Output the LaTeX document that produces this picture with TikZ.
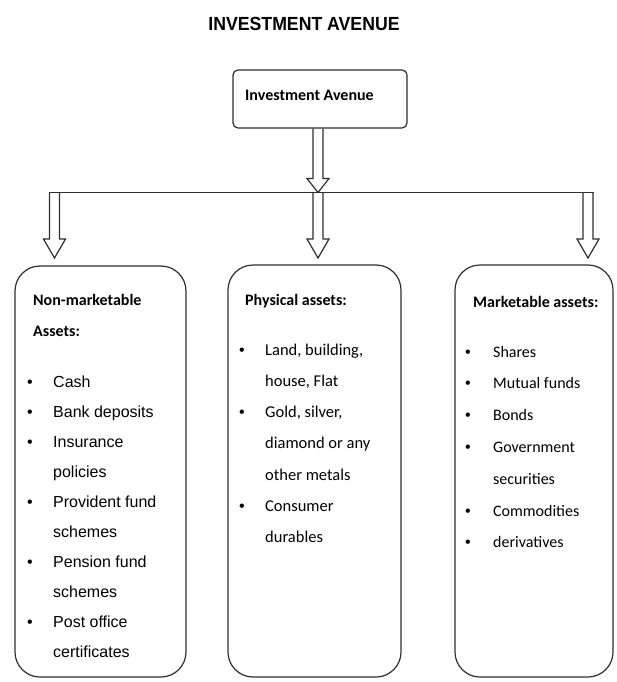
\documentclass[tikz,border=0pt]{standalone}
\usepackage{fontspec}
\usepackage{graphicx}
\setmainfont{Carlito}
\newfontfamily\arialf{Liberation Sans}
\usetikzlibrary{calc}
\definecolor{linec}{HTML}{2E2E2E}
\newcommand\blockarrow[3]{% start, tip, head length
  \draw[arr] ($(#1)+(-5,0)$) -- ($(#2)+(-5,-#3)$) -- ($(#2)+(-11,-#3)$) -- (#2)
    -- ($(#2)+(11,-#3)$) -- ($(#2)+(5,-#3)$) -- ($(#1)+(5,0)$);}
\begin{document}
\begin{tikzpicture}[x=1pt,y=-1pt,
  arr/.style={draw=linec, line width=1.2pt, line join=miter},
  bigbox/.style={draw=linec, line width=1.2pt, rounded corners=25pt, inner sep=0pt},
  smallbox/.style={draw=linec, line width=1.2pt, rounded corners=5pt, inner sep=0pt},
  head/.style={anchor=base west, inner sep=0pt, font=\bfseries\fontsize{16}{19}\selectfont},
  ltxt/.style={anchor=base west, inner sep=0pt, font=\arialf\fontsize{16}{19}\selectfont},
  ctxt/.style={anchor=base west, inner sep=0pt, font=\fontsize{16.5}{19}\selectfont},
  bul/.style={anchor=base, inner sep=0pt, font=\arialf\fontsize{16}{19}\selectfont}]
\useasboundingbox (0,0) rectangle (616,682);
% title
\node[inner sep=0pt, font=\arialf\bfseries\fontsize{19}{22}\selectfont] (title) at (304,24) {\scalebox{0.93}[1]{INVESTMENT AVENUE}};
% top box
\node[smallbox, minimum width=174pt, minimum height=58pt] (top) at (320,99) {};
\node[head] (toptext) at (245,101) {Investment Avenue};
% lower boxes
\node[bigbox, minimum width=171pt, minimum height=411pt] (nm) at (100.5,471.5) {};
\node[bigbox, minimum width=173pt, minimum height=412pt] (ph) at (314.5,471) {};
\node[bigbox, minimum width=158pt, minimum height=412pt] (mk) at (534,471) {};
% connectors
\coordinate (hub) at (318,192.5);
\coordinate (la) at (54.5,192.5);
\coordinate (ra) at (588,192.5);
\coordinate (s0) at (top.south -| hub);
\blockarrow{s0}{hub}{14}
\draw[arr] ($(la)+(-5.5,0)$) -- ($(ra)+(5.5,0)$);
\coordinate (ltip) at (54.5,258);
\coordinate (mtip) at (318,258);
\coordinate (rtip) at (588,258);
\blockarrow{la}{ltip}{19}
\blockarrow{hub}{mtip}{19}
\blockarrow{ra}{rtip}{19}
% headings
\node[head] (h1a) at (33,305) {Non-marketable};
\node[head] (h1b) at (33,336) {Assets:};
\node[head] (h2) at (245,305) {Physical assets:};
\node[head] (h3) at (473,307) {Marketable assets:};
% left list
\foreach \t/\b [count=\i from 0] in {Cash/1, Bank deposits/1, Insurance/1, policies/0, Provident fund/1, schemes/0, Pension fund/1, schemes/0, Post office/1, certificates/0}{
  \node[ltxt] (L\i) at (53,{387.5+30*\i}) {\t};
  \ifnum\b=1 \node[bul] (LB\i) at (30,{387.5+30*\i}) {\textbullet}; \fi
}
% middle list
\foreach \t/\b [count=\i from 0] in {{Land, building,}/1, {house, Flat}/0, {Gold, silver,}/1, diamond or any/0, other metals/0, Consumer/1, durables/0}{
  \node[ctxt] (M\i) at (265,{355+31.3*\i}) {\t};
  \ifnum\b=1 \node[bul] (MB\i) at (242,{355+31.3*\i}) {\textbullet}; \fi
}
% right list
\foreach \t/\b [count=\i from 0] in {Shares/1, Mutual funds/1, Bonds/1, Government/1, securities/0, Commodities/1, derivatives/1}{
  \node[ctxt, font=\fontsize{16}{19}\selectfont] (R\i) at (493,{357+31.8*\i}) {\t};
  \ifnum\b=1 \node[bul] (RB\i) at (468,{357+31.8*\i}) {\textbullet}; \fi
}
\end{tikzpicture}
\end{document}
